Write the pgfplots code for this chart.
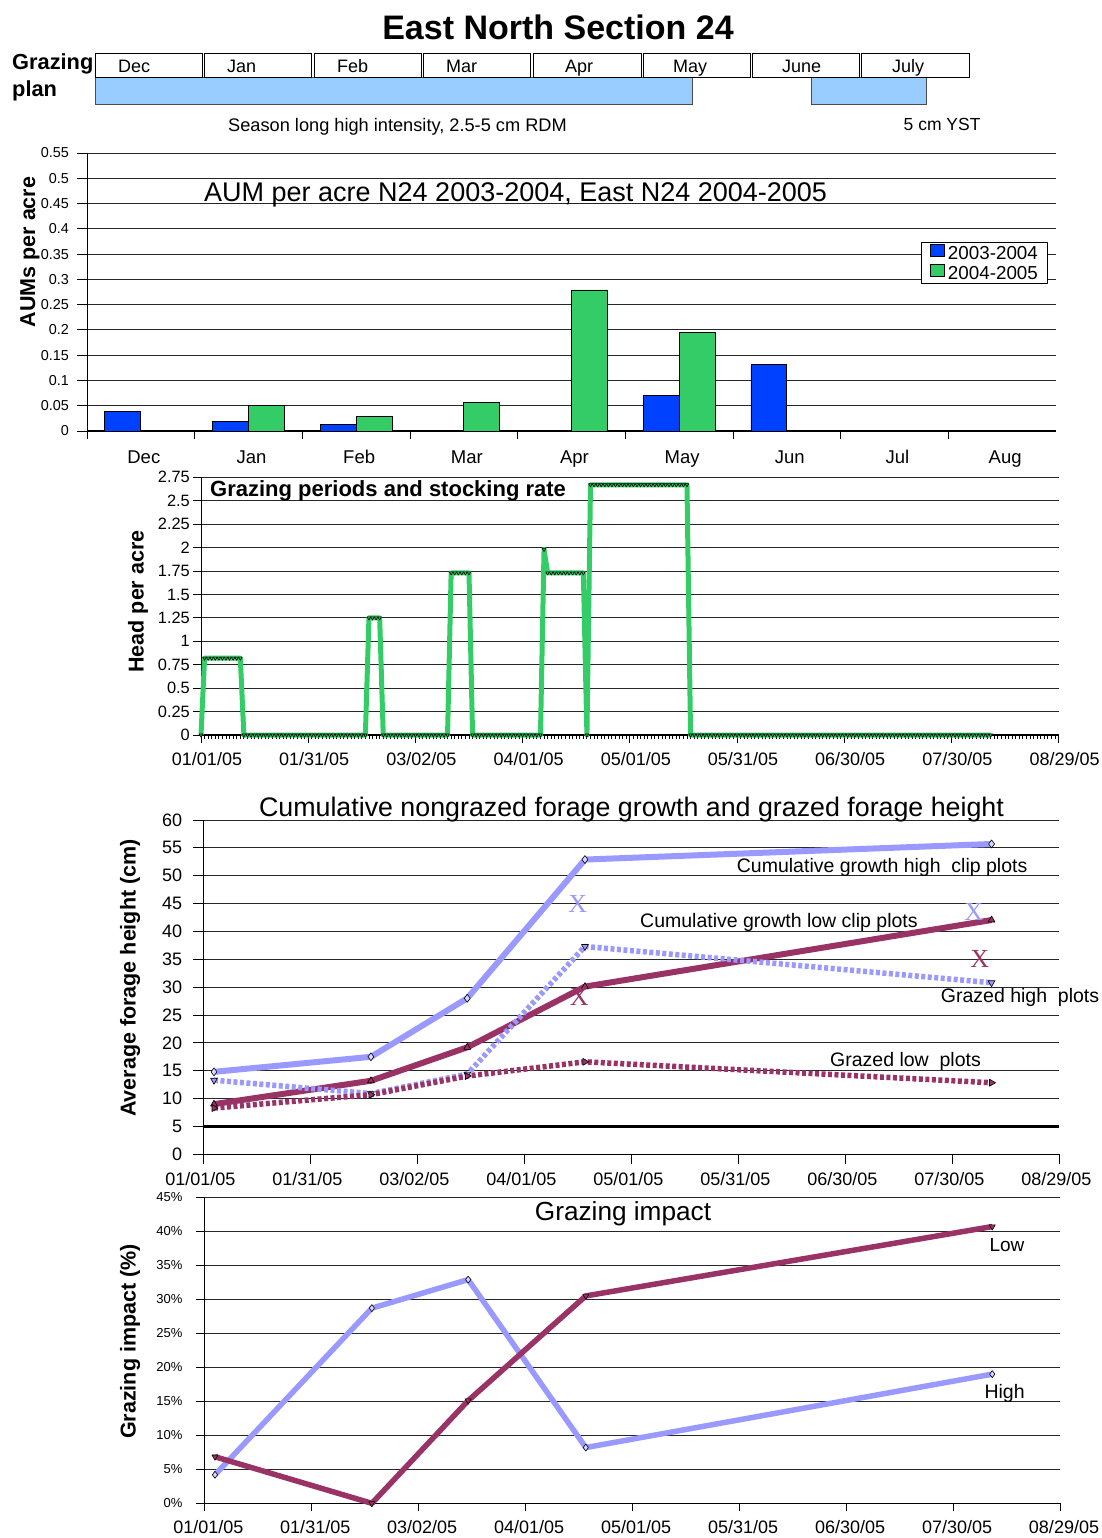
\documentclass[border=0pt]{standalone}
\usepackage{fontspec}
\setmainfont{Liberation Sans}
\newfontfamily\serifX{Liberation Serif}
\usepackage{pgfplots}
\pgfplotsset{compat=1.18}
\definecolor{barblue}{HTML}{0040FF}
\definecolor{bargreen}{HTML}{33CC66}
\definecolor{planblue}{HTML}{99CCFF}
\definecolor{lilac}{HTML}{9999FF}
\definecolor{plum}{HTML}{993366}
\newcommand{\fs}[1]{\fontsize{#1}{#1}\selectfont}
\pgfplotsset{
  base/.style={
    scale only axis, anchor=south west, clip=false,
    axis x line*=bottom, axis y line*=left,
    axis line style={black, line width=0.9pt},
    ymajorgrids, major grid style={black!85, line width=0.9pt},
    tick style={black, line width=0.9pt},
    tick align=outside,
    yticklabel style={anchor=east, inner sep=0pt},
    xticklabel style={anchor=base, inner sep=0pt},
    ylabel style={anchor=center, font=\bfseries\fs{21.5}},
    line join=round,
  },
  dates/.style={
    xmin=0, xmax=240, xtick={0,30,...,240},
    xticklabels={01/01/05,01/31/05,03/02/05,04/01/05,05/01/05,05/31/05,06/30/05,07/30/05,08/29/05},
    xticklabel style={font=\fs{18}},
  },
}
\begin{document}
\begin{tikzpicture}
% ---------------- title and grazing plan ----------------
\node[font=\bfseries\fs{34}, anchor=base] at (558pt,-40pt) {East North Section 24};
\node[font=\bfseries\fs{21.8}, anchor=base west, inner sep=0pt] at (12pt,-70pt) {Grazing};
\node[font=\bfseries\fs{21.8}, anchor=base west, inner sep=0pt] at (12pt,-97pt) {plan};
\begin{axis}[scale only axis, anchor=south west, at={(95pt,-104pt)}, width=874pt, height=51pt,
  xmin=0, xmax=8, ymin=0, ymax=51, hide axis, clip=false]
\addplot[fill=planblue, draw=black!70, line width=0.8pt] coordinates {(0,0) (0,27) (5.465,27) (5.465,0)} -- cycle;
\addplot[fill=planblue, draw=black!70, line width=0.8pt] coordinates {(6.554,0) (6.554,27) (7.606,27) (7.606,0)} -- cycle;
\end{axis}
\foreach \l/\r/\t/\m in {95/202/118/Dec,204/311/227/Jan,314/421/337/Feb,423/530/446/Mar,533/641/565/Apr,643/750/673/May,752/859/782/June,861/969/892/July}{
  \draw[line width=0.9pt] (\l pt,-53pt) rectangle (\r pt,-77pt);
  \node[font=\fs{18}, anchor=base west, inner sep=0pt] at (\t pt,-72.5pt) {\m};
}
\node[font=\fs{18.2}, anchor=base] at (397.5pt,-132pt) {Season long high intensity, 2.5-5 cm RDM};
\node[font=\fs{17.5}, anchor=base west, inner sep=0pt] at (903.5pt,-131pt) {5 cm YST};

% ---------------- AUM bar chart ----------------
\begin{axis}[base,
  at={(87pt,-431pt)}, width=969pt, height=278pt,
  xmin=-0.5, xmax=8.5, ymin=0, ymax=0.55,
  ytick={0,0.05,0.1,0.15,0.2,0.25,0.3,0.35,0.4,0.45,0.5,0.55},
  yticklabels={0,0.05,0.1,0.15,0.2,0.25,0.3,0.35,0.4,0.45,0.5,0.55},
  yticklabel style={font=\fs{14.4}, xshift=-8pt},
  xtick={0,1,2,3,4,5,6,7,8},
  xticklabels={Dec,Jan,Feb,Mar,Apr,May,Jun,Jul,Aug},
  xticklabel style={font=\fs{18.5}, yshift=-22pt, xshift=3pt},
  major x tick style={draw=none},
  minor xtick={-0.5,0.5,1.5,2.5,3.5,4.5,5.5,6.5,7.5},
  minor tick length=8pt, major tick length=10pt,
  x axis line style={line width=2.5pt},
  ybar, bar width=0.3333,
  ylabel={AUMs per acre},
  ylabel style={at={(axis description cs:-0.0588,0.644)}},
  legend style={at={(axis description cs:0.8603,0.681)}, anchor=north west, draw=black, line width=0.9pt,
     font=\fs{18.8}, inner xsep=9pt, inner ysep=2pt, row sep=2pt, column sep=2pt, nodes={inner sep=1pt}},
  legend cell align=left,
  legend image code/.code={\draw[#1, line width=0.9pt] (0pt,-3pt) rectangle (14pt,9pt);},
]
\addplot[fill=barblue, draw=black, line width=0.9pt, bar shift=-0.16667] coordinates {(0,0.039) (1,0.018) (2,0.012) (5,0.071) (6,0.131)};
\addlegendentry{2003-2004}
\addplot[fill=bargreen, draw=black, line width=0.9pt, bar shift=0.16667] coordinates {(1,0.051) (2,0.028) (3,0.057) (4,0.279) (5,0.194)};
\addlegendentry{2004-2005}
\end{axis}
\node[font=\fs{27}, anchor=base west, inner sep=0pt] at (204pt,-202pt) {AUM per acre N24 2003-2004, East N24 2004-2005};

% ---------------- Head per acre ----------------
\begin{axis}[base, dates,
  at={(201pt,-735pt)}, width=857.6pt, height=257.7pt,
  ymin=0, ymax=2.75,
  ytick={0,0.25,0.5,0.75,1,1.25,1.5,1.75,2,2.25,2.5,2.75},
  yticklabels={0,0.25,0.5,0.75,1,1.25,1.5,1.75,2,2.25,2.5,2.75},
  yticklabel style={font=\fs{16.4}, xshift=-3pt},
  xticklabel style={xshift=6pt, yshift=-22pt},
  major tick length=8pt, minor tick length=4pt, minor x tick num=29,
  x axis line style={line width=2pt},
  ylabel={Head per acre},
  ylabel style={at={(axis description cs:-0.0735,0.518)}},
]
\addplot[bargreen, line width=5pt, mark=triangle*, mark size=2.1pt,
  mark options={rotate=180, fill=bargreen, draw=black, line width=0.6pt}] coordinates {
(0,0)
(1,0.82)(2,0.82)(3,0.82)(4,0.82)(5,0.82)(6,0.82)(7,0.82)(8,0.82)(9,0.82)(10,0.82)(11,0.82)
(12,0)(13,0)(14,0)(15,0)(16,0)(17,0)(18,0)(19,0)(20,0)(21,0)(22,0)(23,0)(24,0)(25,0)(26,0)(27,0)(28,0)(29,0)
(30,0)(31,0)(32,0)(33,0)(34,0)(35,0)(36,0)(37,0)(38,0)(39,0)(40,0)(41,0)(42,0)(43,0)(44,0)(45,0)(46,0)
(47,1.25)(48,1.25)(49,1.25)(50,1.25)
(51,0)(52,0)(53,0)(54,0)(55,0)(56,0)(57,0)(58,0)(59,0)(60,0)(61,0)(62,0)(63,0)(64,0)(65,0)(66,0)(67,0)(68,0)(69,0)
(70,1.73)(71,1.73)(72,1.73)(73,1.73)(74,1.73)(75,1.73)
(76,0)(77,0)(78,0)(79,0)(80,0)(81,0)(82,0)(83,0)(84,0)(85,0)(86,0)(87,0)(88,0)(89,0)(90,0)(91,0)(92,0)(93,0)(94,0)(95,0)
(96,1.98)
(97,1.73)(98,1.73)(99,1.73)(100,1.73)(101,1.73)(102,1.73)(103,1.73)(104,1.73)(105,1.73)(106,1.73)(107,1.73)
(108,0)
(109,2.67)(110,2.67)(111,2.67)(112,2.67)(113,2.67)(114,2.67)(115,2.67)(116,2.67)(117,2.67)(118,2.67)(119,2.67)
(120,2.67)(121,2.67)(122,2.67)(123,2.67)(124,2.67)(125,2.67)(126,2.67)(127,2.67)(128,2.67)(129,2.67)(130,2.67)
(131,2.67)(132,2.67)(133,2.67)(134,2.67)(135,2.67)(136,2.67)
(137,0)(138,0)(139,0)(140,0)(141,0)(142,0)(143,0)(144,0)(145,0)(146,0)(147,0)(148,0)(149,0)(150,0)
(151,0)(152,0)(153,0)(154,0)(155,0)(156,0)(157,0)(158,0)(159,0)(160,0)(161,0)(162,0)(163,0)(164,0)(165,0)
(166,0)(167,0)(168,0)(169,0)(170,0)(171,0)(172,0)(173,0)(174,0)(175,0)(176,0)(177,0)(178,0)(179,0)(180,0)
(181,0)(182,0)(183,0)(184,0)(185,0)(186,0)(187,0)(188,0)(189,0)(190,0)(191,0)(192,0)(193,0)(194,0)(195,0)
(196,0)(197,0)(198,0)(199,0)(200,0)(201,0)(202,0)(203,0)(204,0)(205,0)(206,0)(207,0)(208,0)(209,0)(210,0)
(211,0)(212,0)(213,0)(214,0)(215,0)(216,0)(217,0)(218,0)(219,0)(220,0)(221,0)
};
\end{axis}
\node[font=\bfseries\fs{22}, anchor=base west, inner sep=0pt] at (210pt,-496.7pt) {Grazing periods and stocking rate};

% ---------------- Forage height ----------------
\begin{axis}[base, dates,
  at={(203.3pt,-1154.3pt)}, width=856pt, height=334.3pt,
  ymin=0, ymax=60, ytick={0,5,...,60},
  /pgf/number format/assume math mode=true,
  yticklabel style={font=\fs{18}, xshift=-11pt},
  xticklabel style={xshift=-3pt, yshift=-21pt},
  major tick length=10pt,
  extra y ticks={5}, extra y tick labels={},
  extra y tick style={major grid style={black, line width=2.6pt}},
  ylabel={Average forage height (cm)},
  ylabel style={at={(axis description cs:-0.0856,0.5274)}},
  mark size=4pt,
]
\addplot[lilac, line width=6pt, mark=diamond*,
  mark options={fill=lilac!40, draw=black, line width=0.6pt}] coordinates {(3,14.8) (47,17.5) (74,28.0) (107,52.9) (221,55.7)};
\addplot[plum, line width=6pt, mark=triangle*,
  mark options={fill=plum, draw=black, line width=0.6pt}] coordinates {(3,9.0) (47,13.2) (74,19.2) (107,30.1) (221,42.05)};
\addplot[lilac, line width=5.5pt, dash pattern=on 4pt off 2.5pt, mark=triangle*,
  mark options={solid, rotate=180, fill=lilac, draw=black, line width=0.6pt}] coordinates {(3,13.3) (47,10.9) (74,14.4) (107,37.3) (221,30.8)};
\addplot[plum, line width=5.5pt, dash pattern=on 4pt off 2.5pt, mark=triangle*,
  mark options={solid, rotate=-90, fill=plum, draw=black, line width=0.6pt}] coordinates {(3,8.3) (47,10.7) (74,14.05) (107,16.6) (221,12.85)};
\addplot[lilac, only marks, mark=text, text mark={X}, text mark as node=true,
  text mark style={font=\serifX\fs{26}, text=lilac, inner sep=0pt}] coordinates {(105,44.9) (216,43.5)};
\addplot[plum, only marks, mark=text, text mark={X}, text mark as node=true,
  text mark style={font=\serifX\fs{26}, text=plum, inner sep=0pt}] coordinates {(105.4,28.2) (217.7,35.0)};
\end{axis}
\node[font=\fs{26.8}, anchor=base] at (631.5pt,-816pt) {Cumulative nongrazed forage growth and grazed forage height};
\node[font=\fs{19.5}, anchor=base west, inner sep=0pt] at (736.7pt,-872.7pt) {Cumulative growth high\ \ clip plots};
\node[font=\fs{19.5}, anchor=base west, inner sep=0pt] at (640pt,-927.3pt) {Cumulative growth low clip plots};
\node[font=\fs{19.5}, anchor=base west, inner sep=0pt] at (940.7pt,-1002.7pt) {Grazed high\ \ plots};
\node[font=\fs{19.5}, anchor=base west, inner sep=0pt] at (830pt,-1066pt) {Grazed low\ \ plots};

% ---------------- Grazing impact ----------------
\begin{axis}[base, dates,
  at={(204.3pt,-1503.3pt)}, width=855.7pt, height=306pt,
  ymin=0, ymax=45, ytick={0,5,10,15,20,25,30,35,40,45},
  yticklabels={0\%,5\%,10\%,15\%,20\%,25\%,30\%,35\%,40\%,45\%},
  yticklabel style={font=\fs{13}, xshift=-13.6pt},
  xticklabel style={xshift=4pt, yshift=-22pt},
  major tick length=8pt,
  ylabel={Grazing impact (\%)},
  ylabel style={at={(axis description cs:-0.0868,0.5288)}},
  mark size=3.5pt,
]
\addplot[lilac, line width=5.5pt, mark=diamond*,
  mark options={fill=lilac!40, draw=black, line width=0.6pt}] coordinates {(3,4.2) (47,28.7) (74,32.9) (107,8.2) (221,19.0)};
\addplot[plum, line width=5.5pt, mark=triangle*,
  mark options={rotate=180, fill=plum, draw=black, line width=0.6pt}] coordinates {(3,6.85) (47,0) (74,15.1) (107,30.5) (221,40.7)};
\end{axis}
\node[font=\fs{26.2}, anchor=base] at (623pt,-1220pt) {Grazing impact};
\node[font=\fs{19}, anchor=base west, inner sep=0pt] at (989.3pt,-1251.7pt) {Low};
\node[font=\fs{19.5}, anchor=base west, inner sep=0pt] at (984.3pt,-1398.3pt) {High};

\pgfresetboundingbox
\path[use as bounding box] (0pt,0pt) rectangle (1102pt,-1538pt);
\end{tikzpicture}
\end{document}
